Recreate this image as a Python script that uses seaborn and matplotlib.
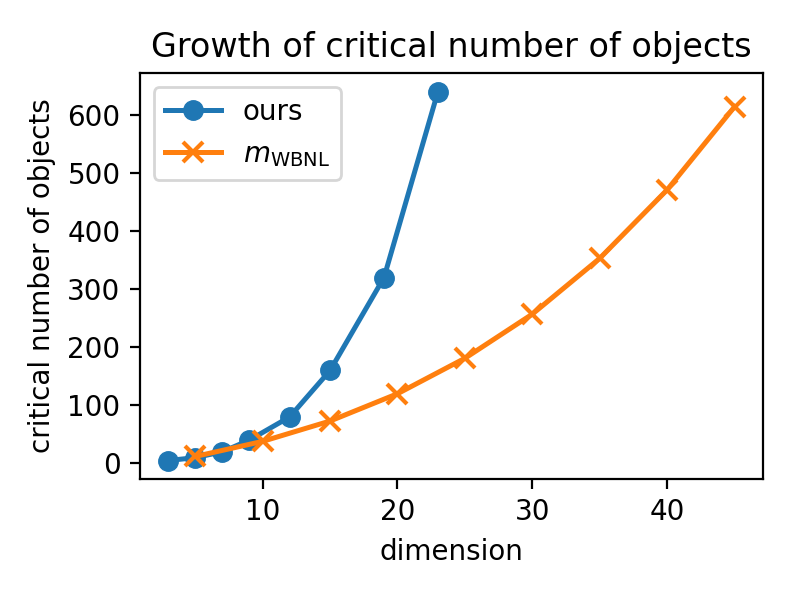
import matplotlib
matplotlib.use("Agg")
import matplotlib.pyplot as plt
import seaborn as sns

# dimension vs critical number of objects
ours_dim = [3, 5, 7, 9, 12, 15, 19, 23]
ours_vals = [5, 10, 20, 40, 80, 160, 320, 640]

wbnl_dim = [5, 10, 15, 20, 25, 30, 35, 40, 45]
wbnl_vals = [12, 38, 73, 120, 181, 257, 353, 471, 614]

fig = plt.figure(figsize=(3.965, 2.975), dpi=200)
ax = fig.add_axes([0.1765, 0.195, 0.7855, 0.682])

sns.lineplot(x=ours_dim, y=ours_vals, marker="o", markersize=7,
             markeredgewidth=0.5, markeredgecolor="#1f77b4",
             linewidth=1.8, color="#1f77b4", label="ours", ax=ax)
sns.lineplot(x=wbnl_dim, y=wbnl_vals, marker="x", markersize=7,
             markeredgewidth=1.5, markeredgecolor="#ff7f0e",
             linewidth=1.8, color="#ff7f0e", label=r"$m_{\mathrm{WBNL}}$", ax=ax)

ax.set_title("Growth of critical number of objects")
ax.set_xlabel("dimension")
ax.set_ylabel("critical number of objects")
ax.legend(loc="upper left")

fig.savefig("out.png", dpi=200)
